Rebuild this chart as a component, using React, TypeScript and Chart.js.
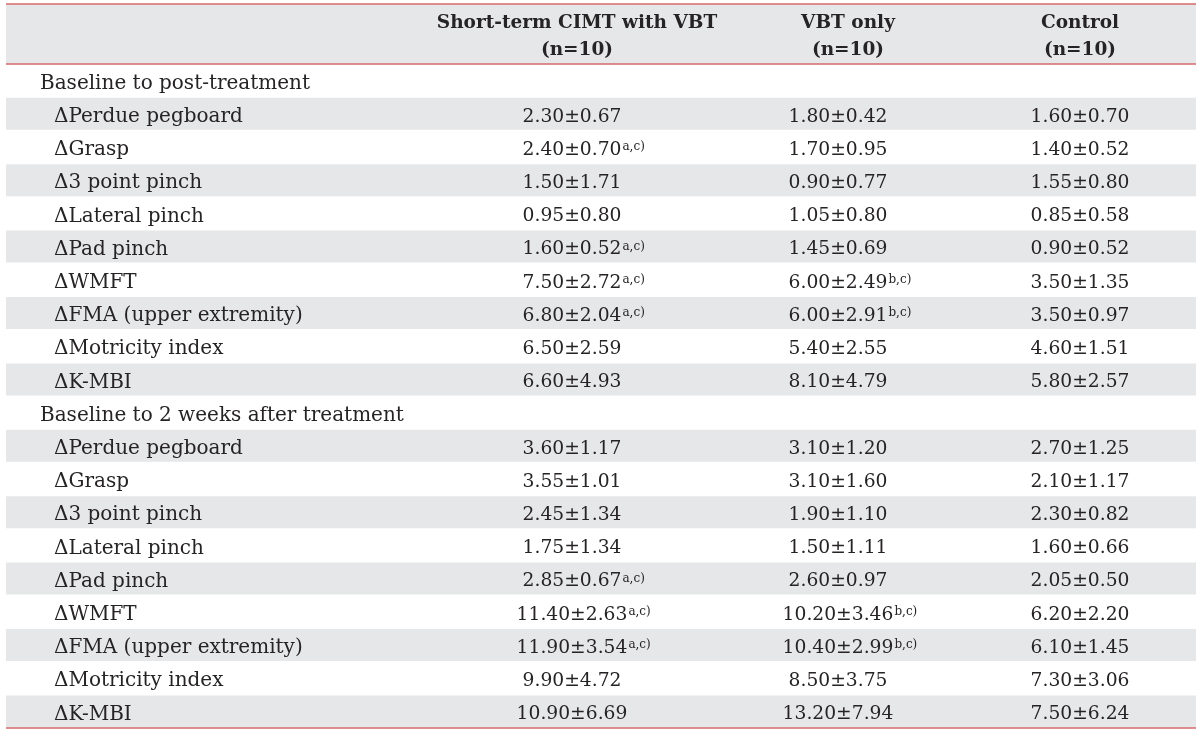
import React, { useEffect, useRef } from "react";
import { Chart, registerables } from "chart.js";

Chart.register(...registerables);

// ---------------- data ----------------
const columnTitles = ["Short-term CIMT with VBT", "VBT only", "Control"];
const columnSubtitles = ["(n=10)", "(n=10)", "(n=10)"];
const sectionTitles = ["Baseline to post-treatment", "Baseline to 2 weeks after treatment"];
const measures = [
  "ΔPerdue pegboard",
  "ΔGrasp",
  "Δ3 point pinch",
  "ΔLateral pinch",
  "ΔPad pinch",
  "ΔWMFT",
  "ΔFMA (upper extremity)",
  "ΔMotricity index",
  "ΔK-MBI",
];

// Baseline to post-treatment
const postCimtMean = [2.3, 2.4, 1.5, 0.95, 1.6, 7.5, 6.8, 6.5, 6.6];
const postCimtSd = [0.67, 0.7, 1.71, 0.8, 0.52, 2.72, 2.04, 2.59, 4.93];
const postCimtSig = ["", "a,c)", "", "", "a,c)", "a,c)", "a,c)", "", ""];
const postVbtMean = [1.8, 1.7, 0.9, 1.05, 1.45, 6.0, 6.0, 5.4, 8.1];
const postVbtSd = [0.42, 0.95, 0.77, 0.8, 0.69, 2.49, 2.91, 2.55, 4.79];
const postVbtSig = ["", "", "", "", "", "b,c)", "b,c)", "", ""];
const postCtrlMean = [1.6, 1.4, 1.55, 0.85, 0.9, 3.5, 3.5, 4.6, 5.8];
const postCtrlSd = [0.7, 0.52, 0.8, 0.58, 0.52, 1.35, 0.97, 1.51, 2.57];
const postCtrlSig = ["", "", "", "", "", "", "", "", ""];

// Baseline to 2 weeks after treatment
const fuCimtMean = [3.6, 3.55, 2.45, 1.75, 2.85, 11.4, 11.9, 9.9, 10.9];
const fuCimtSd = [1.17, 1.01, 1.34, 1.34, 0.67, 2.63, 3.54, 4.72, 6.69];
const fuCimtSig = ["", "", "", "", "a,c)", "a,c)", "a,c)", "", ""];
const fuVbtMean = [3.1, 3.1, 1.9, 1.5, 2.6, 10.2, 10.4, 8.5, 13.2];
const fuVbtSd = [1.2, 1.6, 1.1, 1.11, 0.97, 3.46, 2.99, 3.75, 7.94];
const fuVbtSig = ["", "", "", "", "", "b,c)", "b,c)", "", ""];
const fuCtrlMean = [2.7, 2.1, 2.3, 1.6, 2.05, 6.2, 6.1, 7.3, 7.5];
const fuCtrlSd = [1.25, 1.17, 0.82, 0.66, 0.5, 2.2, 1.45, 3.06, 6.24];
const fuCtrlSig = ["", "", "", "", "", "", "", "", ""];

// ---------------- layout / style ----------------
const W = 1200;
const H = 733;
const HEADER_TOP_PX = 4;
const BODY_TOP_PX = 64;
const ROW_H_PX = 33.2;
const TABLE_LEFT = 6;
const TABLE_RIGHT = 1196;
const SECTION_X = 40;
const ITEM_X = 54;
const CELL_CENTERS = [572, 838, 1080];
const HEAD_CENTERS = [577, 848, 1080];
const GREY = "#e6e7e8";
const RED = "#d4686c";
const INK = "#262324";
const FONT = "'DejaVu Serif'";
const LABEL_SIZE = 20;
const NUM_SIZE = 18.7;
const HEAD_SIZE = 18.5;
const SUP_SIZE = 12;

type Cell = { mean: number; sd: number; sig: string };
type Row = { kind: "section" | "item"; label: string; idx: number; cells: Cell[] };

function buildSection(title: string, means: number[][], sds: number[][], sigs: string[][]): Row[] {
  const out: Row[] = [{ kind: "section", label: title, idx: -1, cells: [] }];
  measures.forEach((m, i) => {
    out.push({
      kind: "item",
      label: m,
      idx: i,
      cells: means.map((col, c) => ({ mean: col[i], sd: sds[c][i], sig: sigs[c][i] })),
    });
  });
  return out;
}

const rows: Row[] = [
  ...buildSection(
    sectionTitles[0],
    [postCimtMean, postVbtMean, postCtrlMean],
    [postCimtSd, postVbtSd, postCtrlSd],
    [postCimtSig, postVbtSig, postCtrlSig]
  ),
  ...buildSection(
    sectionTitles[1],
    [fuCimtMean, fuVbtMean, fuCtrlMean],
    [fuCimtSd, fuVbtSd, fuCtrlSd],
    [fuCimtSig, fuVbtSig, fuCtrlSig]
  ),
];

// y scale in "row units": row r spans [r, r+1]
const Y_MIN = -BODY_TOP_PX / ROW_H_PX;
const Y_MAX = (H - BODY_TOP_PX) / ROW_H_PX;
const HEADER_TOP_VAL = (HEADER_TOP_PX - BODY_TOP_PX) / ROW_H_PX;

const stripeData = rows
  .map((r, i) => ({ r, i }))
  .filter(({ r }) => r.kind === "item" && r.idx % 2 === 0)
  .map(({ i }) => ({ x: [TABLE_LEFT, TABLE_RIGHT], y: i + 0.5 }));

const tablePlugin = {
  id: "tableText",
  beforeDatasetsDraw(chart: any) {
    const { ctx } = chart;
    const xs = chart.scales.x;
    const ys = chart.scales.y;
    const l = xs.getPixelForValue(TABLE_LEFT);
    const r = xs.getPixelForValue(TABLE_RIGHT);
    const t = ys.getPixelForValue(HEADER_TOP_VAL);
    const b = ys.getPixelForValue(0);
    ctx.save();
    ctx.fillStyle = GREY;
    ctx.fillRect(l, t, r - l, b - t);
    ctx.restore();
  },
  afterDatasetsDraw(chart: any) {
    const { ctx } = chart;
    const xs = chart.scales.x;
    const ys = chart.scales.y;
    const l = xs.getPixelForValue(TABLE_LEFT);
    const r = xs.getPixelForValue(TABLE_RIGHT);
    ctx.save();
    // rules
    ctx.strokeStyle = RED;
    ctx.lineWidth = 1.6;
    [HEADER_TOP_VAL, 0, rows.length].forEach((v) => {
      const y = ys.getPixelForValue(v);
      ctx.beginPath();
      ctx.moveTo(l, y);
      ctx.lineTo(r, y);
      ctx.stroke();
    });

    ctx.fillStyle = INK;
    ctx.textBaseline = "alphabetic";

    // header
    const hTop = ys.getPixelForValue(HEADER_TOP_VAL);
    const hBot = ys.getPixelForValue(0);
    const hMid = (hTop + hBot) / 2;
    const hcap = HEAD_SIZE * 0.729;
    ctx.font = `bold ${HEAD_SIZE}px ${FONT}`;
    ctx.textAlign = "center";
    columnTitles.forEach((tt, c) => {
      const cx = xs.getPixelForValue(HEAD_CENTERS[c]);
      ctx.fillText(tt, cx, hMid - 13 + hcap / 2);
      ctx.fillText(columnSubtitles[c], cx, hMid + 14 + hcap / 2);
    });

    // body
    const lcap = LABEL_SIZE * 0.729;
    const ncap = NUM_SIZE * 0.729;
    rows.forEach((row, i) => {
      const yMid = ys.getPixelForValue(i + 0.5) + 1;
      ctx.font = `${LABEL_SIZE}px ${FONT}`;
      ctx.textAlign = "left";
      const lbase = yMid + lcap / 2;
      if (row.kind === "section") {
        ctx.fillText(row.label, xs.getPixelForValue(SECTION_X), lbase);
        return;
      }
      ctx.fillText(row.label, xs.getPixelForValue(ITEM_X), lbase);
      const nbase = yMid + ncap / 2;
      row.cells.forEach((cell, c) => {
        const txt = `${cell.mean.toFixed(2)}±${cell.sd.toFixed(2)}`;
        ctx.font = `${NUM_SIZE}px ${FONT}`;
        const w = ctx.measureText(txt).width;
        const cx = xs.getPixelForValue(CELL_CENTERS[c]);
        ctx.textAlign = "left";
        ctx.fillText(txt, cx - w / 2, nbase);
        if (cell.sig) {
          ctx.font = `${SUP_SIZE}px ${FONT}`;
          ctx.fillText(cell.sig, cx + w / 2 + 1, nbase - ncap + SUP_SIZE * 0.729);
        }
      });
    });
    ctx.restore();
  },
};

export default function App() {
  const ref = useRef<HTMLCanvasElement | null>(null);
  useEffect(() => {
    if (!ref.current) return;
    const chart = new Chart(ref.current, {
      type: "bar",
      data: {
        datasets: [
          {
            data: stripeData as any,
            backgroundColor: GREY,
            borderWidth: 0,
            barPercentage: 0.5,
            categoryPercentage: 1,
          },
        ],
      },
      options: {
        indexAxis: "y",
        responsive: false,
        maintainAspectRatio: false,
        animation: false,
        devicePixelRatio: 1,
        layout: { padding: 0 },
        events: [],
        plugins: { legend: { display: false }, tooltip: { enabled: false }, title: { display: false } },
        scales: {
          x: { type: "linear", min: 0, max: W, display: false, offset: false },
          y: { type: "linear", min: Y_MIN, max: Y_MAX, reverse: true, display: false, offset: false },
        },
      },
      plugins: [tablePlugin],
    });
    return () => chart.destroy();
  }, []);
  return (
    <div style={{ position: "fixed", left: 0, top: 0, width: W, height: H, background: "#fff" }}>
      <canvas ref={ref} width={W} height={H} style={{ display: "block", width: W, height: H }} />
    </div>
  );
}
